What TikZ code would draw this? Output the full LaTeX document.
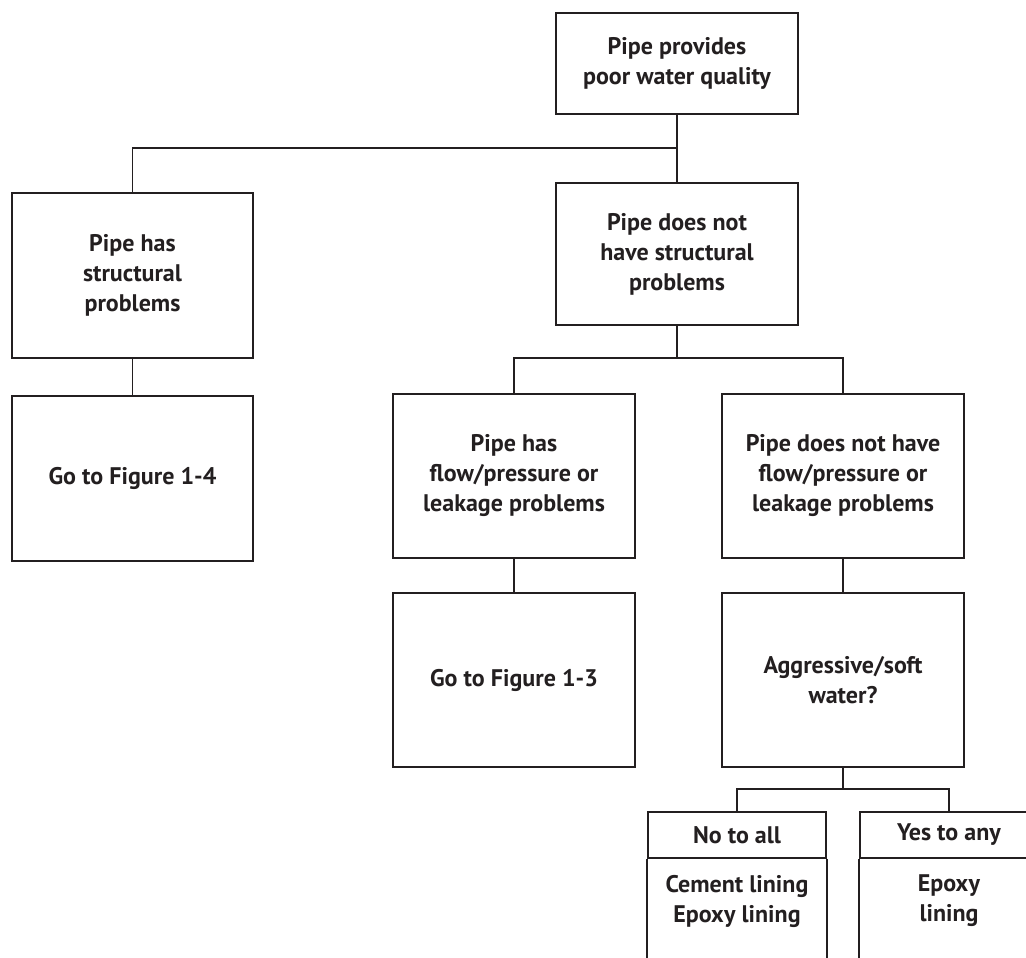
\documentclass[tikz,border=0pt]{standalone}
\usepackage{fontspec}
\setmainfont{PT Sans}
\definecolor{ink}{HTML}{231F20}
\begin{document}
\begin{tikzpicture}[x=1pt, y=-1pt, color=ink,
  box/.style={draw, line width=1.6pt, minimum width=242pt, inner sep=2pt, align=center, font=\bfseries\fontsize{24}{30}\selectfont},
  tag/.style={box, minimum width=178pt, minimum height=46pt},
  txt/.style={align=center, font=\bfseries\fontsize{24}{30}\selectfont},
  wire/.style={line width=1.6pt}]
%			\draw[help lines] (0,0) grid (1026,958);
\useasboundingbox (0,0) rectangle (1026,958);
\clip (0,0) rectangle (1026,958);
\node[box, minimum height=101pt] (quality) at (677,63.5) {Pipe provides\\poor water quality};
\node[box, minimum width=241pt, minimum height=165pt] (struct) at (132.5,275.5) {Pipe has\\structural\\problems};
\node[box, minimum height=142pt] (nostruct) at (677,254) {Pipe does not\\have structural\\problems};
\node[box, minimum width=241pt, minimum height=165pt] (fig14) at (132.5,478.5) {Go to Figure 1-4};
\node[box, minimum height=164pt] (flow) at (514,476) {Pipe has\\flow/pressure or\\leakage problems};
\node[box, minimum height=164pt] (noflow) at (843,476) {Pipe does not have\\flow/pressure or\\leakage problems};
\node[box, minimum height=174pt] (fig13) at (514,680) {Go to Figure 1-3};
\node[box, minimum height=174pt] (soft) at (843,680) {Aggressive/soft\\water?};
\node[tag] (no) at (737,835) {No to all};
\node[tag] (yes) at (949,835) {Yes to any};
\node[txt] (cement) at (737,901) {Cement lining\\Epoxy lining};
\node[txt] (epoxy) at (949,901) {Epoxy\\lining};
\coordinate (j1) at (677,148);
\coordinate (j2) at (677,358);
\coordinate (j3) at (843,789);
\draw[wire] (quality.south) -- (nostruct.north);
\draw[wire] (j1) -| (struct.north);
\draw[wire] (struct.south) -- (fig14.north);
\draw[wire] (nostruct.south) -- (j2);
\draw[wire] (flow.north) |- (j2) -| (noflow.north);
\draw[wire] (flow.south) -- (fig13.north);
\draw[wire] (noflow.south) -- (soft.north);
\draw[wire] (soft.south) -- (j3);
\draw[wire] (no.north) |- (j3) -| (yes.north);
\draw[wire] (no.south west) -- ++(0,150);
\draw[wire] (no.south east) -- ++(0,150);
\draw[wire] (yes.south west) -- ++(0,150);
\draw[wire] (yes.south east) -- ++(0,150);
\end{tikzpicture}
\end{document}
